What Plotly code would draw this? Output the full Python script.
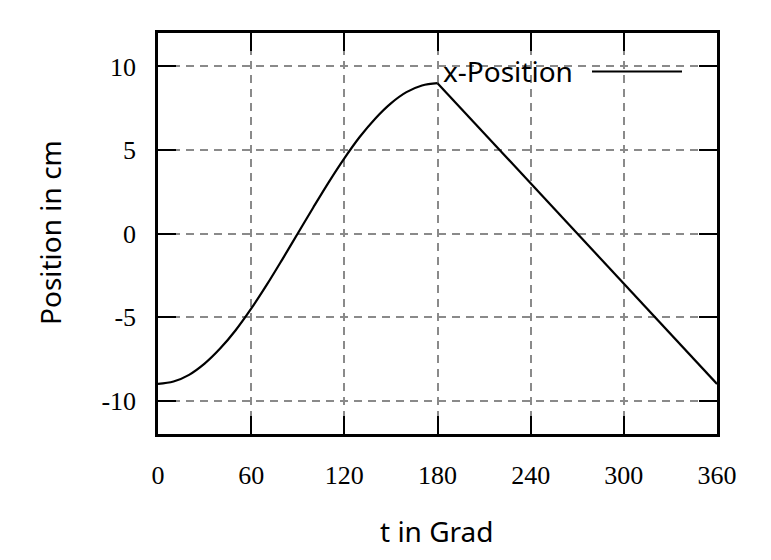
import plotly.graph_objects as go

# Data
t_rise = [0, 10, 20, 30, 40, 50, 60, 70, 80, 90, 100, 110, 120, 130, 140, 150, 160, 170, 180]
x_rise = [-9.0, -8.86, -8.46, -7.79, -6.89, -5.79, -4.5, -3.08, -1.56, 0.0,
          1.56, 3.08, 4.5, 5.79, 6.89, 7.79, 8.46, 8.86, 9.0]
t_fall = [180, 360]
x_fall = [9.0, -9.0]

x_ticks = [0, 60, 120, 180, 240, 300, 360]
y_ticks = [-10, -5, 0, 5, 10]
series_name = "x-Position"
x_title = "t in Grad"
y_title = "Position in cm"

# page has 8px body margin; plot area in reference pixels: x 158..717, y 33..434
OFF = 8
W, H = 771 - 2 * OFF, 560 - 2 * OFF
PL, PR, PT, PB = 158, 717, 33, 434
L, T = PL - OFF, PT - OFF
R, B = W - (PR - OFF), H - (PB - OFF)

def px(xp):
    return (xp - PL) / (PR - PL)

def py(yp):
    return (PB - yp) / (PB - PT)

fig = go.Figure()
fig.add_trace(go.Scatter(x=t_rise, y=x_rise, mode="lines", line=dict(color="black", width=2.2, shape="spline"),
                         showlegend=False, name=series_name))
fig.add_trace(go.Scatter(x=t_fall, y=x_fall, mode="lines", line=dict(color="black", width=2.2),
                         showlegend=False, name=series_name))

tickfont = dict(family="Liberation Serif", size=26, color="black")
labfont = dict(family="Noto Sans", size=28, color="black")

axis_common = dict(
    showline=True, linecolor="black", linewidth=2.5, mirror="allticks",
    ticks="inside", ticklen=18, tickwidth=2, tickcolor="black",
    showgrid=True, gridcolor="#8a8a8a", gridwidth=1.5, griddash="8px,6px",
    zeroline=False, tickfont=tickfont,
)

fig.update_xaxes(range=[0, 360], tickvals=x_ticks, ticktext=[str(v) for v in x_ticks],
                 ticklabelstandoff=16, **axis_common)
fig.update_yaxes(range=[-12, 12], tickvals=y_ticks, ticktext=[str(v) for v in y_ticks],
                 ticklabelstandoff=14, **axis_common)

# key box (hides grid, below curve)
fig.add_shape(type="rect", xref="paper", yref="paper", x0=px(392), x1=px(699), y0=py(90), y1=py(53),
              fillcolor="white", line=dict(width=0), layer="between")
# key sample line
fig.add_shape(type="line", xref="paper", yref="paper", x0=px(592), x1=px(682), y0=py(71.5), y1=py(71.5),
              line=dict(color="black", width=2), layer="above")
fig.add_annotation(text=series_name, xref="paper", yref="paper", x=px(575), y=py(71.5),
                   xanchor="right", yanchor="middle", showarrow=False, font=labfont)

fig.add_annotation(text=x_title, xref="paper", yref="paper", x=px(437), y=py(531),
                   xanchor="center", yanchor="middle", showarrow=False, font=labfont)
fig.add_annotation(text=y_title, xref="paper", yref="paper", x=px(50), y=py(233),
                   xanchor="center", yanchor="middle", showarrow=False, font=labfont, textangle=-90)

fig.update_layout(width=W, height=H, margin=dict(l=L, r=R, t=T, b=B),
                  plot_bgcolor="white", paper_bgcolor="white")

fig.write_html("out.html")
